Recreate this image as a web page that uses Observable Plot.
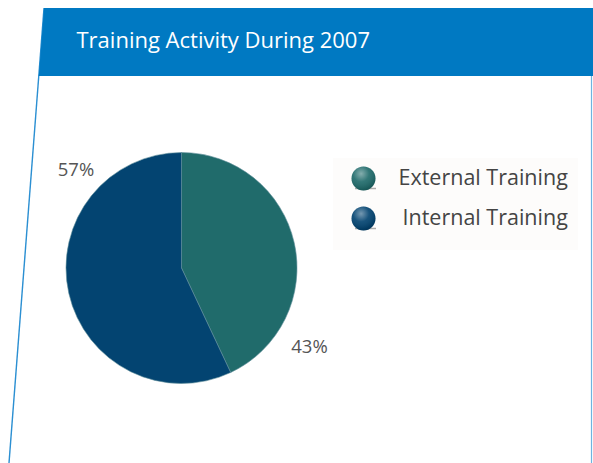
<!DOCTYPE html>
<html>
<head>
<meta charset="utf-8">
<script src="https://cdn.jsdelivr.net/npm/d3@7"></script>
<script src="https://cdn.jsdelivr.net/npm/@observablehq/plot@0.6"></script>
<style>
  html, body { margin: 0; padding: 0; background: #fff; }
  #chart { width: 593px; height: 463px; overflow: hidden; }
</style>
</head>
<body>
<div id="chart"></div>
<script>
const title = "Training Activity During 2007";
const categories = ["External Training", "Internal Training"];
const values = [43, 57];
const valueLabels = ["43%", "57%"];
const colors = ["#206b6b", "#034471"];

const data = categories.map((c, i) => ({category: c, value: values[i], label: valueLabels[i]}));

// layout constants
const W = 593, H = 463;
const cx = 181.5, cy = 268, R = 115.5;
const pie = d3.pie().sort(null).value(d => d.value);
const arcs = pie(data);
const labelOffsets = [-33, -47]; // degrees back from each slice's end angle
const labelRadius = [150, 145];
const labelData = arcs.map((a, i) => {
  const ang = a.endAngle + labelOffsets[i] * Math.PI / 180;
  return {label: a.data.label, x: cx + labelRadius[i] * Math.sin(ang), y: cy - labelRadius[i] * Math.cos(ang)};
});
const legendData = categories.map((c, i) => ({category: c, x: 363, y: 178 + i * 40, tx: i === 0 ? 398 : 402}));

function frame(index, scales, values, dims) {
  const g = d3.create("svg:g");
  const defs = g.append("defs");
  const rg = defs.append("radialGradient").attr("id", "shine").attr("cx", "0.4").attr("cy", "0.3").attr("r", "0.75");
  rg.append("stop").attr("offset", "0").attr("stop-color", "#fff").attr("stop-opacity", 0.45);
  rg.append("stop").attr("offset", "0.45").attr("stop-color", "#fff").attr("stop-opacity", 0.08);
  rg.append("stop").attr("offset", "0.85").attr("stop-color", "#000").attr("stop-opacity", 0.12);
  rg.append("stop").attr("offset", "1").attr("stop-color", "#000").attr("stop-opacity", 0.25);
  // slanted left rule
  const x0 = 44, y0 = 8, slope = 35 / 455;
  g.append("line").attr("x1", x0).attr("y1", y0).attr("x2", x0 - slope * (H - y0)).attr("y2", H)
    .attr("stroke", "#2b8fd2").attr("stroke-width", 1.4);
  // header band
  g.append("path").attr("d", `M${x0},${y0}L${W},${y0}L${W},76L${x0 - slope * (76 - y0)},76Z`).attr("fill", "#0079c2");
  // right rule
  g.append("line").attr("x1", 591.5).attr("y1", 76).attr("x2", 591.5).attr("y2", H)
    .attr("stroke", "#6fb3e0").attr("stroke-width", 1.2);
  // legend faint backdrop
  g.append("rect").attr("x", 333).attr("y", 158).attr("width", 245).attr("height", 92).attr("fill", "#fdfcfb");
  return g.node();
}

function pieMark(index, scales) {
  const g = d3.create("svg:g").attr("transform", `translate(${cx},${cy})`);
  const arc = d3.arc().innerRadius(0).outerRadius(R);
  g.selectAll("path").data(arcs).join("path")
    .attr("d", arc)
    .attr("fill", d => scales.color(d.data.category))
    .attr("stroke", "#5f8f9a").attr("stroke-width", 0.6);
  return g.node();
}

const chart = Plot.plot({
  width: W, height: H, margin: 0,
  style: {background: "#fff", overflow: "visible"},
  x: {domain: [0, W], range: [0, W], axis: null},
  y: {domain: [0, H], range: [0, H], axis: null},
  color: {domain: categories, range: colors},
  marks: [
    frame,
    Plot.text([title], {x: 76, y: 40, text: d => d, fill: "#fff", fontSize: 22, textAnchor: "start", fontFamily: "Open Sans", fontWeight: 400}),
    pieMark,
    Plot.text(labelData, {x: "x", y: "y", text: "label", fill: "#555", fontSize: 18.5, fontFamily: "Open Sans"}),
    Plot.ruleY(legendData, {y: d => d.y + 10, x1: d => d.x - 8, x2: d => d.x + 13, stroke: "#777", strokeWidth: 1.5, strokeOpacity: 0.6}),
    Plot.dot(legendData, {x: "x", y: "y", r: 12, fill: "category"}),
    Plot.dot(legendData, {x: "x", y: "y", r: 12, fill: "url(#shine)"}),
    Plot.text(legendData, {x: "tx", y: "y", text: "category", fill: "#444", fontSize: 21.5, textAnchor: "start", fontFamily: "Open Sans"})
  ]
});
document.getElementById("chart").append(chart);
</script>
</body>
</html>
